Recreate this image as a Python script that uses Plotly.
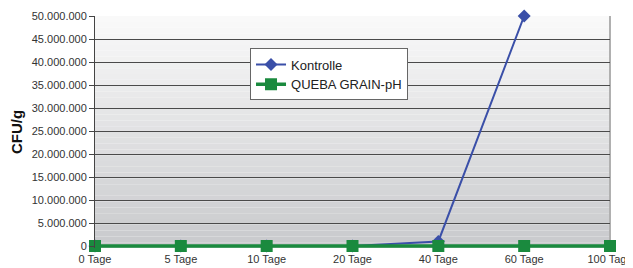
import plotly.graph_objects as go

categories = ["0 Tage", "5 Tage", "10 Tage", "20 Tage", "40 Tage", "60 Tage", "100 Tage"]
kontrolle = [0, 0, 0, 0, 1000000, 50000000, None]
queba = [0, 0, 0, 0, 0, 0, 0]
y_title = "CFU/g"

fig = go.Figure()
fig.add_trace(go.Scatter(
    x=categories, y=kontrolle, name="Kontrolle", mode="lines+markers",
    line=dict(color="#3a4fa8", width=2),
    marker=dict(symbol="diamond", size=10, color="#3a4fa8"),
    cliponaxis=False,
))
fig.add_trace(go.Scatter(
    x=categories, y=queba, name="QUEBA GRAIN-pH", mode="lines+markers",
    line=dict(color="#1a8a3e", width=3.5),
    marker=dict(symbol="square", size=12, color="#1a8a3e"),
    cliponaxis=False,
))

# gradient background for plot area
n = 40
shapes = []
top = (250, 250, 250)
bot = (200, 201, 204)
for i in range(n):
    t = (i + 0.5) / n
    c = tuple(int(round(top[k] + (bot[k] - top[k]) * t)) for k in range(3))
    shapes.append(dict(type="rect", xref="paper", yref="paper",
                       x0=0, x1=1, y0=1 - (i + 1) / n, y1=1 - i / n,
                       fillcolor="rgb(%d,%d,%d)" % c, line=dict(width=0), layer="below"))
shapes.append(dict(type="line", xref="paper", yref="paper", x0=1, x1=1, y0=0, y1=1,
                   line=dict(color="#b0b0b0", width=2), layer="below"))

# page body has an 8px default margin, so the figure is shifted by 8px
fig.update_layout(
    width=625, height=260,
    margin=dict(l=87, r=23, t=8, b=20),
    paper_bgcolor="white", plot_bgcolor="rgba(0,0,0,0)",
    font=dict(family="Liberation Sans, Arial, sans-serif", size=11, color="#333"),
    separators=",.",
    shapes=shapes,
    showlegend=True,
    legend=dict(x=0.301, y=0.86, xanchor="left", yanchor="top",
                bgcolor="white", bordercolor="#666", borderwidth=1,
                font=dict(size=13, color="#222"), tracegroupgap=0,
                itemwidth=30),
    xaxis=dict(type="category", range=[0, 6], showgrid=False, zeroline=False,
               showline=False, ticks="outside", ticklen=1, tickcolor="rgba(0,0,0,0)",
               tickfont=dict(size=11), automargin=False),
    yaxis=dict(range=[-430000, 50000000], dtick=5000000, tickformat=",d",
               showgrid=True, gridcolor="#4a4a4a", gridwidth=1,
               zeroline=False, showline=True, linecolor="#444", linewidth=1,
               ticks="outside", ticklen=5, tickcolor="#444", automargin=False,
               title=dict(text=y_title, font=dict(size=15, color="#111",
                          family="Liberation Sans, Arial, sans-serif", weight="bold"),
                          standoff=12)),
)

fig.write_html("out.html")
